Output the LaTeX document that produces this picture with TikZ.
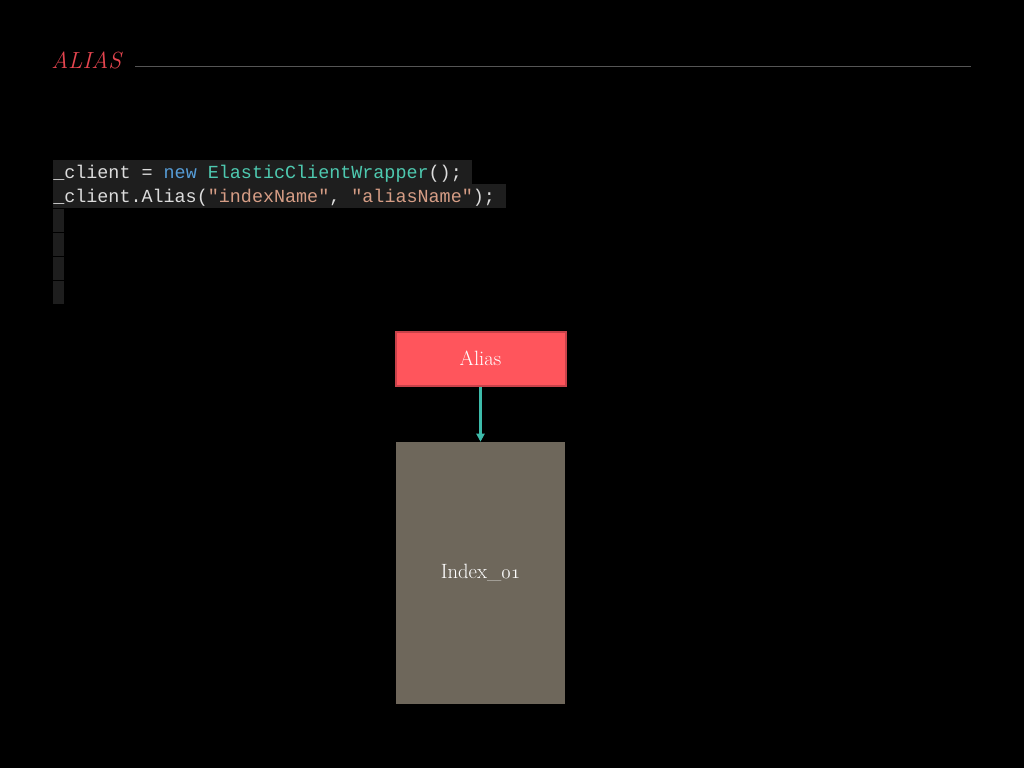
\documentclass[tikz,border=0pt]{standalone}
\usepackage{fontspec}
\newfontfamily\codefont{Liberation Mono}
\usetikzlibrary{arrows.meta}
\definecolor{bgcode}{HTML}{1E1E1E}
\definecolor{ctext}{HTML}{DCDCDC}
\definecolor{ckey}{HTML}{569CD6}
\definecolor{ctype}{HTML}{4EC9B0}
\definecolor{cstr}{HTML}{D69D85}
\definecolor{titlered}{HTML}{E5454F}
\definecolor{aliasfill}{HTML}{FF555C}
\definecolor{aliasdraw}{HTML}{C8424A}
\definecolor{indexfill}{HTML}{6E675B}
\definecolor{arrowteal}{HTML}{3DBBAA}
\definecolor{rulegray}{HTML}{555555}
\newcommand{\osdigits}[1]{{\usefont{OML}{lmm}{m}{it}#1}}
\tikzset{
  codeline/.style={anchor=base west, inner sep=0pt, font=\codefont\fontsize{13.8}{16}\selectfont, text=ctext},
  boxtext/.style={font=\fontsize{15.5}{18}\selectfont, text=white},
}
\begin{document}
\begin{tikzpicture}[x=0.75pt,y=-0.75pt]
\fill[black] (0,0) rectangle (1024,768);
\useasboundingbox (0,0) rectangle (1024,768);
% title
\node[anchor=base west, inner sep=0pt, text=titlered, font=\itshape\fontsize{17.5}{20}\selectfont] (title) at (51,68) {ALIAS};
\coordinate (ruleL) at (135,66);
\coordinate (ruleR) at (971,66);
\draw[rulegray, line width=0.75pt] (ruleL) -- (ruleR);
% code backgrounds
\fill[bgcode] (53,160) rectangle (472,184);
\fill[bgcode] (53,184) rectangle (506,208);
\fill[bgcode] (53,209) rectangle (64,232);
\fill[bgcode] (53,233) rectangle (64,256);
\fill[bgcode] (53,257) rectangle (64,280);
\fill[bgcode] (53,281) rectangle (64,304);
\node[codeline] (code1) at (53,178) {\_client = \textcolor{ckey}{new} \textcolor{ctype}{ElasticClientWrapper}();};
\node[codeline] (code2) at (53,202) {\_client.Alias(\textcolor{cstr}{"indexName"}, \textcolor{cstr}{"aliasName"});};
% boxes
\node[draw=aliasdraw, line width=1.5pt, fill=aliasfill, minimum width=170pt*0.75, minimum height=54pt*0.75, inner sep=0pt, boxtext] (alias) at (480.5,358.5) {Alias};
\node[fill=indexfill, minimum width=169pt*0.75, minimum height=262pt*0.75, inner sep=0pt, boxtext] (index) at (480.5,573) {Index\_\osdigits{01}};
\draw[arrowteal, line width=1.6pt, -{Triangle[width=6pt,length=6pt]}] (alias.south) -- (index.north);
\end{tikzpicture}
\end{document}
